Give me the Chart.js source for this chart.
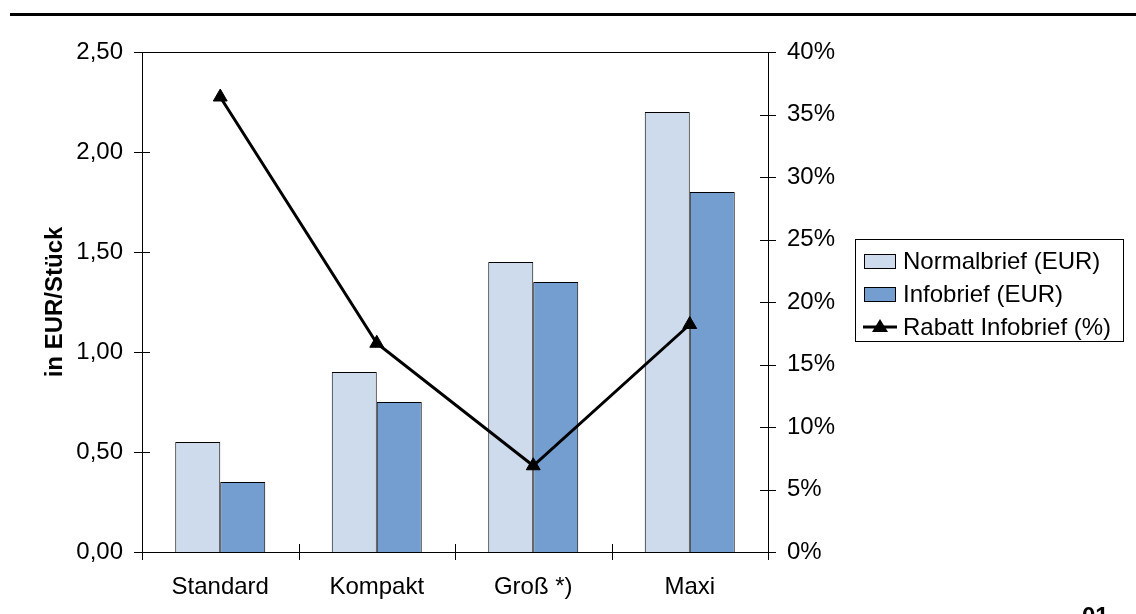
<!DOCTYPE html>
<html>
<head>
<meta charset="utf-8">
<script src="https://cdn.jsdelivr.net/npm/chart.js@4/dist/chart.umd.min.js"></script>
<style>
  html, body { margin: 0; padding: 0; background: #fff; overflow: hidden; }
  #wrap { position: relative; width: 1136px; height: 614px; }
  #topRule { position: absolute; left: 10px; top: 13px; width: 1126px; height: 3px; background: #000; }
  #pageNo { position: absolute; left: 1082px; top: 602px; font: bold 24px "Liberation Sans", Arial, sans-serif; color: #000; }
</style>
</head>
<body>
<div id="wrap">
  <canvas id="chart" width="1136" height="614"></canvas>
  <div id="topRule"></div>
  <div id="pageNo">01</div>
</div>
<script>
// categories and values
const categories = ["Standard", "Kompakt", "Groß *)", "Maxi"];
const normalbrief = [0.55, 0.90, 1.45, 2.20];
const infobrief = [0.35, 0.75, 1.35, 1.80];
const rabatt = [36.4, 16.7, 6.9, 18.2];

const FONT = "'Liberation Sans', Arial, sans-serif";
const lightBlue = "rgb(206, 219, 236)";
const darkBlue = "rgb(116, 158, 207)";

// plot area box, cross tick marks, legend
const extras = {
  id: "extras",
  afterDraw(chart) {
    const ctx = chart.ctx;
    const a = chart.chartArea;
    const x = chart.scales.x, y = chart.scales.y, y1 = chart.scales.y1;
    ctx.save();
    ctx.strokeStyle = "#000";
    ctx.lineWidth = 1;
    ctx.beginPath();
    ctx.moveTo(a.left, a.top + 0.5);
    ctx.lineTo(a.right, a.top + 0.5);
    y.ticks.forEach(t => {
      const py = Math.round(y.getPixelForValue(t.value)) + 0.5;
      ctx.moveTo(a.left - 8, py);
      ctx.lineTo(a.left + 8, py);
    });
    y1.ticks.forEach(t => {
      const py = Math.round(y1.getPixelForValue(t.value)) + 0.5;
      ctx.moveTo(a.right - 8, py);
      ctx.lineTo(a.right + 8, py);
    });
    for (let i = 0; i <= categories.length; i++) {
      const px = Math.round(x.getPixelForValue(i - 0.5)) + 0.5;
      ctx.moveTo(px, a.bottom - 8);
      ctx.lineTo(px, a.bottom + 8);
    }
    ctx.stroke();

    // legend
    const lx = 855, ly = 239, lw = 268, lh = 102;
    ctx.strokeRect(lx + 0.5, ly + 0.5, lw, lh);
    ctx.font = "24px " + FONT;
    ctx.fillStyle = "#000";
    ctx.textBaseline = "middle";
    const rows = [261, 294, 327];
    chart.data.datasets.forEach((ds, i) => {
      const cy = rows[i];
      if (ds.type === "line") {
        ctx.lineWidth = 3;
        ctx.beginPath();
        ctx.moveTo(863, cy);
        ctx.lineTo(897, cy);
        ctx.stroke();
        ctx.beginPath();
        ctx.moveTo(880, cy - 8);
        ctx.lineTo(888, cy + 5);
        ctx.lineTo(872, cy + 5);
        ctx.closePath();
        ctx.fill();
      } else {
        ctx.lineWidth = 1;
        ctx.fillStyle = ds.backgroundColor;
        ctx.fillRect(864, cy - 7, 31, 14);
        ctx.strokeRect(864.5, cy - 6.5, 31, 14);
      }
      ctx.fillStyle = "#000";
      ctx.fillText(ds.label, 903, cy + 1);
    });
    ctx.restore();
  }
};

new Chart(document.getElementById("chart"), {
  data: {
    labels: categories,
    datasets: [
      {
        type: "bar",
        label: "Normalbrief (EUR)",
        data: normalbrief,
        yAxisID: "y",
        backgroundColor: lightBlue,
        borderColor: "#000",
        borderWidth: 1,
        categoryPercentage: 0.575,
        barPercentage: 1,
        order: 1,
      },
      {
        type: "bar",
        label: "Infobrief (EUR)",
        data: infobrief,
        yAxisID: "y",
        backgroundColor: darkBlue,
        borderColor: "#000",
        borderWidth: 1,
        categoryPercentage: 0.575,
        barPercentage: 1,
        order: 1,
      },
      {
        type: "line",
        label: "Rabatt Infobrief (%)",
        data: rabatt,
        yAxisID: "y1",
        borderColor: "#000",
        backgroundColor: "#000",
        borderWidth: 3,
        pointStyle: "triangle",
        pointRadius: 8,
        pointBorderWidth: 1,
        tension: 0,
        order: 0,
      },
    ],
  },
  options: {
    responsive: false,
    animation: false,
    layout: { padding: { top: 52, left: 0, right: 0, bottom: 0 } },
    plugins: {
      legend: { display: false },
      tooltip: { enabled: false },
    },
    scales: {
      x: {
        offset: true,
        grid: { display: false, offset: true },
        border: { display: true, color: "#000", width: 1 },
        ticks: { color: "#000", font: { family: FONT, size: 24 }, padding: 13, maxRotation: 0 },
        afterFit: s => { s.height = 62; },
      },
      y: {
        position: "left",
        min: 0,
        max: 2.5,
        grid: { display: false },
        border: { display: true, color: "#000", width: 1 },
        ticks: {
          stepSize: 0.5,
          color: "#000",
          padding: 11,
          font: { family: FONT, size: 24 },
          callback: v => v.toFixed(2).replace(".", ","),
        },
        title: {
          display: true,
          text: "in EUR/Stück",
          color: "#000",
          font: { family: FONT, size: 24, weight: "bold" },
          padding: { top: 41, bottom: 0 },
        },
        afterFit: s => { s.width = 142; },
      },
      y1: {
        position: "right",
        min: 0,
        max: 40,
        grid: { display: false },
        border: { display: true, color: "#000", width: 1 },
        ticks: {
          stepSize: 5,
          color: "#000",
          padding: 11,
          font: { family: FONT, size: 24 },
          callback: v => v + "%",
        },
        afterFit: s => { s.width = 368; },
      },
    },
  },
  plugins: [extras],
});
</script>
</body>
</html>
